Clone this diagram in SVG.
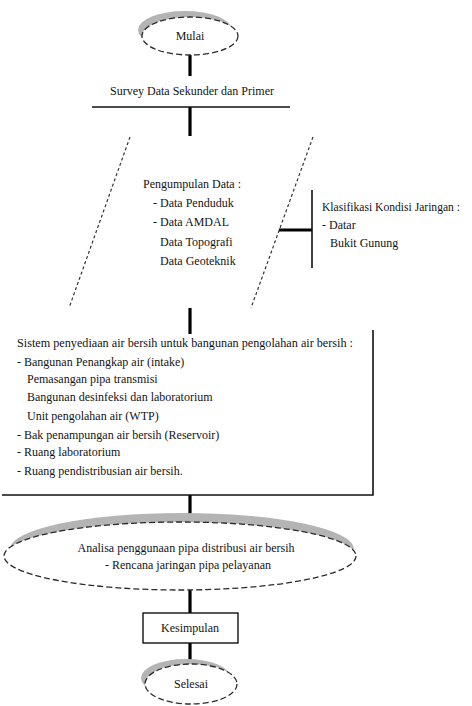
<svg xmlns="http://www.w3.org/2000/svg" width="472" height="706" viewBox="0 0 472 706">
  <style>
    text { font-family: "Liberation Serif", "Times New Roman", serif; font-size: 12px; fill: #141414; }
    .mid { text-anchor: middle; }
    .term { fill: #ffffff; stroke: #2a2a2a; stroke-width: 1.3; stroke-dasharray: 6 3; }
    .shade { fill: #b4b4b4; }
    .dash { fill: none; stroke: #333; stroke-width: 1.2; stroke-dasharray: 3 2.5; }
    .thick { stroke: #000; stroke-width: 3.2; fill: none; }
    .thin { stroke: #111; stroke-width: 1.6; fill: none; }
  </style>
  <rect width="472" height="706" fill="#ffffff"/>

  <!-- flow connectors -->
  <g id="connectors">
    <line class="thick" x1="190" y1="55" x2="190" y2="76"/>
    <line class="thick" x1="190" y1="107" x2="190" y2="136"/>
    <line class="thick" x1="190" y1="308" x2="190" y2="334"/>
    <line class="thick" x1="279" y1="230" x2="312" y2="230"/>
    <line class="thin" x1="312" y1="190" x2="312" y2="268"/>
    <line class="thick" x1="190" y1="495" x2="190" y2="521"/>
    <line class="thick" x1="190" y1="590" x2="190" y2="613"/>
    <line class="thick" x1="190" y1="643" x2="190" y2="663"/>
  </g>

  <!-- start terminator -->
  <g id="mulai">
    <ellipse class="shade" cx="185" cy="30" rx="47" ry="19"/>
    <ellipse class="term" cx="190" cy="36" rx="48" ry="19"/>
    <text class="mid" x="190" y="40">Mulai</text>
  </g>

  <!-- survey step -->
  <g id="survey">
    <text class="mid" x="192" y="95">Survey Data Sekunder dan Primer</text>
    <line class="thin" x1="92" y1="107" x2="290" y2="107"/>
  </g>

  <!-- data collection (input parallelogram) -->
  <g id="pengumpulan">
    <line class="dash" x1="130" y1="137" x2="69" y2="308"/>
    <line class="dash" x1="313" y1="137" x2="251" y2="308"/>
    <text x="143" y="188">Pengumpulan Data :</text>
    <text x="153" y="207">- Data Penduduk</text>
    <text x="153" y="226">- Data AMDAL</text>
    <text x="160" y="246">Data Topografi</text>
    <text x="160" y="265">Data Geoteknik</text>
  </g>

  <!-- network condition classification -->
  <g id="klasifikasi">
    <text x="322" y="211" textLength="138" lengthAdjust="spacingAndGlyphs">Klasifikasi Kondisi Jaringan :</text>
    <text x="322" y="229">- Datar</text>
    <text x="330" y="247">Bukit Gunung</text>
  </g>

  <!-- facility planning block -->
  <g id="perencanaan">
    <path class="thin" d="M373 330 V495 H2"/>
    <text x="17" y="347" textLength="336" lengthAdjust="spacingAndGlyphs">Sistem penyediaan air bersih untuk bangunan pengolahan air bersih :</text>
    <text x="17" y="366">- Bangunan Penangkap air (intake)</text>
    <text x="27" y="383">Pemasangan pipa transmisi</text>
    <text x="27" y="401">Bangunan desinfeksi dan laboratorium</text>
    <text x="27" y="420">Unit pengolahan air (WTP)</text>
    <text x="17" y="439">- Bak penampungan air bersih (Reservoir)</text>
    <text x="17" y="456">- Ruang laboratorium</text>
    <text x="17" y="475">- Ruang pendistribusian air bersih.</text>
  </g>

  <!-- distribution analysis -->
  <g id="analisa">
    <ellipse class="shade" cx="182" cy="549" rx="172" ry="36"/>
    <ellipse class="term" cx="180" cy="556" rx="176" ry="34"/>
    <text class="mid" x="186" y="552">Analisa penggunaan pipa distribusi air bersih</text>
    <text class="mid" x="188" y="569">- Rencana jaringan pipa pelayanan</text>
  </g>

  <!-- conclusion -->
  <g id="kesimpulan">
    <rect x="143" y="613" width="95" height="30" fill="#ffffff" stroke="#111" stroke-width="1.4"/>
    <text class="mid" x="190" y="632">Kesimpulan</text>
  </g>

  <!-- end terminator -->
  <g id="selesai">
    <ellipse class="shade" cx="186" cy="678" rx="45" ry="19"/>
    <ellipse class="term" cx="191" cy="684" rx="46" ry="20"/>
    <text class="mid" x="191" y="688">Selesai</text>
  </g>
</svg>
